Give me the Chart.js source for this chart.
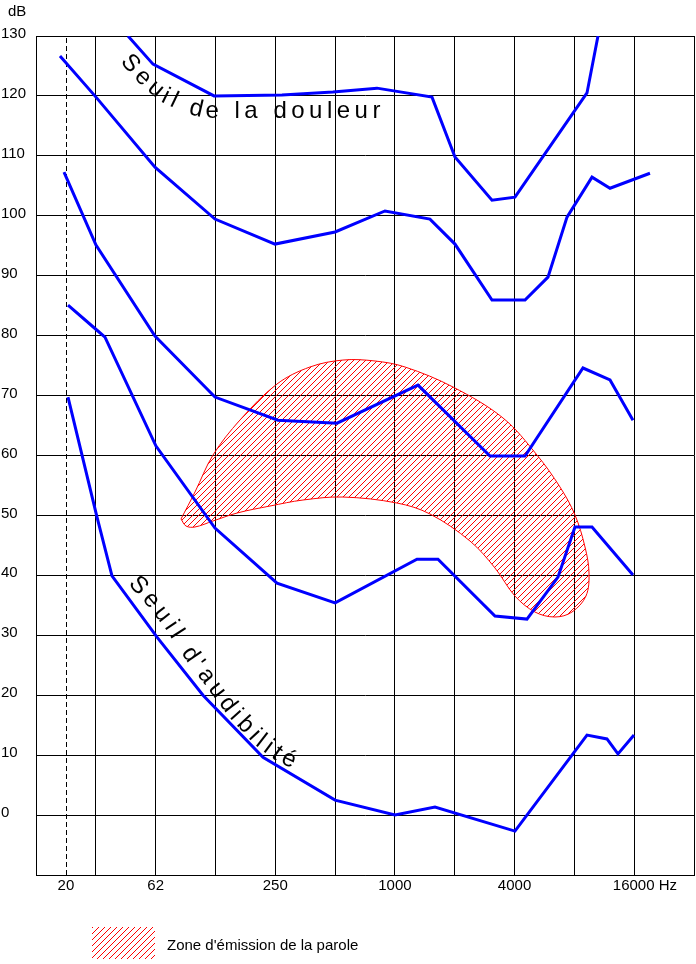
<!DOCTYPE html>
<html><head><meta charset="utf-8">
<script src="https://cdn.jsdelivr.net/npm/chart.js@4"></script>
<style>html,body{margin:0;padding:0;background:#fff}canvas{display:block}</style>
</head><body>
<canvas id="c" width="696" height="964"></canvas>
<script>
// ---- tick labels (x in octaves from the left edge of the grid) ----
const octaveGrid = [0,1,2,3,4,5,6,7,8,9,10,11];
const freqTickPos = [0.5, 2, 4, 6, 8, 10.18];
const freqTickLabels = ['20','62','250','1000','4000','16000 Hz'];

// ---- curves ----
const painX  = [1.538, 1.956, 2.976, 4.112, 4.965, 5.70, 6.62, 7.004, 7.623, 8.007, 9.211, 9.395];
const painDb = [130, 125.3, 120, 120.15, 120.65, 121.3, 119.8, 109.8, 102.6, 103.1, 120.5, 130];

const c2X  = [0.401, 1.003, 1.989, 2.992, 3.995, 5.0, 5.834, 6.586, 7.004, 7.623, 8.175, 8.559, 8.877, 9.295, 9.596, 10.264];
const c2Db = [126.65, 119.8, 108.1, 99.45, 95.28, 97.3, 100.8, 99.45, 95.28, 85.93, 85.93, 89.77, 99.78, 106.45, 104.6, 107.1];

const c3X  = [0.468, 1.003, 1.989, 2.992, 4.045, 5.032, 6.386, 7.59, 8.175, 9.144, 9.596, 9.98];
const c3Db = [107.3, 95.1, 79.95, 69.75, 65.9, 65.4, 71.75, 59.9, 59.9, 74.6, 72.6, 65.9];

const c4X  = [0.535, 1.02, 1.153, 2.006, 2.992, 4.029, 5.0, 6.369, 6.72, 7.673, 8.208, 8.726, 9.01, 9.295, 9.98];
const c4Db = [85.1, 80.9, 79.76, 61.57, 47.9, 38.7, 35.4, 42.7, 42.7, 33.2, 32.7, 39.7, 48.06, 48.06, 40.05];

const audX  = [0.535, 1.02, 1.27, 2.023, 2.792, 3.795, 5.0, 6.001, 6.67, 8.007, 9.211, 9.545, 9.729, 9.997];
const audDb = [69.75, 49.7, 39.9, 29.7, 20.0, 9.65, 2.5, 0.0, 1.35, -2.67, 13.35, 12.7, 10.2, 13.35];

// ---- speech emission zone (closed outline) ----
const speechX  = [2.424, 2.658, 2.959, 3.410, 4.029, 4.580, 5.132, 5.667, 6.169, 6.971, 7.807, 8.375, 8.760, 9.011, 9.178, 9.245, 9.194, 8.960, 8.676, 8.342, 8.007, 7.673, 7.255, 6.586, 6.035, 5.132, 4.463, 3.912, 3.360, 2.959, 2.658, 2.508, 2.424];
const speechDb = [49.40, 53.91, 60.08, 65.92, 71.93, 74.77, 75.93, 75.77, 74.77, 71.43, 66.26, 60.08, 54.74, 50.07, 44.73, 40.39, 36.55, 33.88, 33.05, 33.88, 36.55, 41.23, 45.73, 50.24, 52.07, 53.07, 52.57, 51.57, 50.40, 49.07, 48.07, 48.23, 49.40];

const refLineX = 0.51;

const zip = (xs, ys) => xs.map((x, i) => ({x, y: ys[i]}));

// ---- text paths along the curves (data coordinates) ----
const upperLabel = {
  text: 'Seuil de la douleur',
  path: [[1.404,125.65],[1.672,122.64],[1.906,120.47],[2.073,119.14],[2.273,118.14],[2.541,116.97],[2.825,116.30],[5.918,116.30]]
};
const lowerLabel = {
  text: "Seuil d'audibilité",
  path: [[1.538,38.55],[1.839,35.21],[2.156,31.20],[2.491,26.03],[2.825,21.69],[3.243,16.19],[3.661,11.68],[3.995,9.18],[4.413,7.18]]
};

const FONT = '"Liberation Sans", Arial, Helvetica, sans-serif';
Chart.defaults.font.family = FONT;
Chart.defaults.font.size = 15;
Chart.defaults.color = '#000';

const canvas = document.getElementById('c');
const mainCtx = canvas.getContext('2d');
function makeHatch() {
  const c = document.createElement('canvas');
  c.width = 6; c.height = 6;
  const g = c.getContext('2d');
  g.fillStyle = '#ff0000';
  for (let i = 0; i < 6; i++) g.fillRect(i, 5 - i, 1, 1);
  return mainCtx.createPattern(c, 'repeat');
}
const hatch = makeHatch();

function drawTextOnPath(ctx, chart, label, font, spacing) {
  const xs = chart.scales.x, ys = chart.scales.y;
  const pts = label.path.map(([a, b]) => [xs.getPixelForValue(a), ys.getPixelForValue(b)]);
  const cum = [0];
  for (let i = 1; i < pts.length; i++) {
    cum.push(cum[i-1] + Math.hypot(pts[i][0]-pts[i-1][0], pts[i][1]-pts[i-1][1]));
  }
  const at = (s) => {
    let i = 1;
    while (i < pts.length - 1 && cum[i] < s) i++;
    const seg = cum[i] - cum[i-1] || 1;
    const t = (s - cum[i-1]) / seg;
    return [pts[i-1][0] + (pts[i][0]-pts[i-1][0])*t, pts[i-1][1] + (pts[i][1]-pts[i-1][1])*t];
  };
  ctx.save();
  ctx.font = font;
  ctx.fillStyle = '#000';
  ctx.textBaseline = 'alphabetic';
  ctx.textAlign = 'left';
  let s = 0;
  for (const ch of label.text) {
    const w = ctx.measureText(ch).width;
    const p1 = at(s), p2 = at(s + w);
    const ang = Math.atan2(p2[1]-p1[1], p2[0]-p1[0]);
    ctx.save();
    ctx.translate(p1[0], p1[1]);
    ctx.rotate(ang);
    ctx.fillText(ch, 0, 0);
    ctx.restore();
    s += w + spacing;
  }
  ctx.restore();
}

const textPlugin = {
  id: 'texts',
  afterDraw(chart) {
    const ctx = chart.ctx;
    drawTextOnPath(ctx, chart, upperLabel, '24px ' + FONT, 4.5);
    drawTextOnPath(ctx, chart, lowerLabel, '24px ' + FONT, 4.5);
    ctx.save();
    ctx.fillStyle = '#000';
    ctx.font = '15px ' + FONT;
    ctx.textBaseline = 'alphabetic';
    ctx.textAlign = 'left';
    ctx.fillText('dB', 8, 16);
    // legend
    ctx.fillStyle = hatch;
    ctx.fillRect(92, 927, 63, 32);
    ctx.fillStyle = '#000';
    ctx.font = '15px ' + FONT;
    ctx.fillText("Zone d'émission de la parole", 167, 950);
    ctx.restore();
  }
};

const blue = '#0000ff';
const curve = (data) => ({
  data, showLine: true, borderColor: blue, borderWidth: 3, pointRadius: 0,
  fill: false, tension: 0, order: 1, borderJoinStyle: 'miter'
});

new Chart(canvas, {
  type: 'scatter',
  data: {
    datasets: [
      curve(zip(painX, painDb)),
      curve(zip(c2X, c2Db)),
      curve(zip(c3X, c3Db)),
      curve(zip(c4X, c4Db)),
      curve(zip(audX, audDb)),
      {
        data: [{x: refLineX, y: -10}, {x: refLineX, y: 130}],
        showLine: true, borderColor: '#000', borderWidth: 1, borderDash: [5, 3],
        pointRadius: 0, order: 2
      },
      {
        data: zip(speechX, speechDb),
        showLine: true, borderColor: '#ff0000', borderWidth: 1, pointRadius: 0,
        backgroundColor: hatch, fill: 'shape', tension: 0.35, order: 3
      }
    ]
  },
  options: {
    responsive: false,
    animation: false,
    events: [],
    layout: {padding: {left: 1, top: 36, right: 2, bottom: 59}},
    plugins: {legend: {display: false}, tooltip: {enabled: false}, title: {display: false}},
    scales: {
      x: {
        type: 'linear', min: 0, max: 11,
        afterBuildTicks: (scale) => {
          const vals = octaveGrid.concat(freqTickPos).filter((v, i, a) => a.indexOf(v) === i).sort((a, b) => a - b);
          scale.ticks = vals.map(v => ({value: v}));
        },
        afterFit: (scale) => { scale.height = 30; },
        ticks: {
          autoSkip: false, maxRotation: 0, minRotation: 0, padding: 2,
          font: {size: 15},
          callback: (v) => {
            const i = freqTickPos.findIndex(p => Math.abs(p - v) < 1e-6);
            return i >= 0 && (Number.isInteger(v) ? v !== 10 : true) ? freqTickLabels[i] : '';
          }
        },
        grid: {
          color: (c) => (c.tick && Number.isInteger(c.tick.value)) ? '#000' : 'rgba(0,0,0,0)',
          lineWidth: 1, drawTicks: false
        },
        border: {display: true, color: '#000', width: 1}
      },
      y: {
        type: 'linear', min: -10, max: 130,
        afterFit: (scale) => { scale.width = 35; },
        ticks: {
          stepSize: 10, crossAlign: 'far', labelOffset: -2, padding: 0,
          font: {size: 15},
          callback: (v) => v === -10 ? '' : String(v)
        },
        grid: {color: '#000', lineWidth: 1, drawTicks: false},
        border: {display: true, color: '#000', width: 1}
      }
    }
  },
  plugins: [textPlugin]
});
</script>
</body></html>
